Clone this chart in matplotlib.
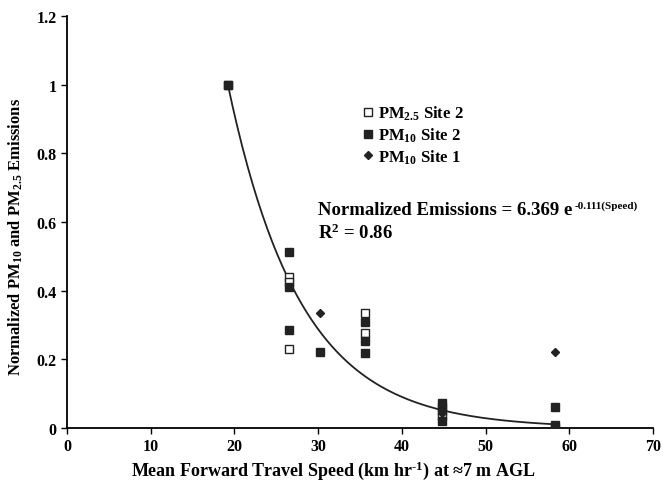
import numpy as np
import matplotlib
matplotlib.use('Agg')
import matplotlib.pyplot as plt

plt.rcParams['font.family'] = 'Liberation Serif'
plt.rcParams['font.weight'] = 'bold'
plt.rcParams['mathtext.fontset'] = 'custom'
plt.rcParams['mathtext.rm'] = 'Liberation Serif:bold'
plt.rcParams['mathtext.it'] = 'Liberation Serif:bold'
plt.rcParams['mathtext.bf'] = 'Liberation Serif:bold'

# PM2.5 Site 2 (open squares)
pm25_s2_x = [19.2, 26.5, 26.5, 26.5, 35.6, 35.6, 44.8, 44.8]
pm25_s2_y = [1.0, 0.44, 0.425, 0.23, 0.335, 0.277, 0.05, 0.035]
# PM10 Site 2 (filled squares)
pm10_s2_x = [19.2, 26.5, 26.5, 26.5, 30.2, 35.6, 35.6, 35.6, 44.8, 44.8, 44.8, 58.3, 58.3, 58.3]
pm10_s2_y = [1.0, 0.513, 0.412, 0.285, 0.221, 0.309, 0.253, 0.218, 0.073, 0.06, 0.02, 0.062, 0.01, 0.0]
# PM10 Site 1 (diamonds)
pm10_s1_x = [19.2, 30.2, 44.8, 58.3]
pm10_s1_y = [1.0, 0.335, 0.045, 0.22]

# exponential trend line as drawn
fit_a = 9.2
fit_k = 0.1155
fit_x = np.linspace(19.2, 58.5, 200)
fit_y = fit_a * np.exp(-fit_k * fit_x)

fig = plt.figure(figsize=(6.63, 4.81), dpi=100)
ax = fig.add_axes([0.101, 0.108, 0.884, 0.857])

ax.plot(fit_x, fit_y, color='#222222', lw=1.3, zorder=2)
ax.plot(pm25_s2_x, pm25_s2_y, ls='none', marker='s', ms=6, mfc='white', mec='#222222', mew=1, label='PM$_{2.5}$ Site 2', zorder=3)
ax.plot(pm10_s2_x, pm10_s2_y, ls='none', marker='s', ms=6, mfc='#222222', mec='#222222', label='PM$_{10}$ Site 2', zorder=3)
ax.plot(pm10_s1_x, pm10_s1_y, ls='none', marker='D', ms=4.5, mfc='#222222', mec='#222222', label='PM$_{10}$ Site 1', zorder=3)

ax.set_xlim(0, 70)
ax.set_ylim(0, 1.2)
ax.set_xticks(range(0, 71, 10))
ax.set_yticks([0, 0.2, 0.4, 0.6, 0.8, 1.0, 1.2])
ax.set_yticklabels(['0', '0.2', '0.4', '0.6', '0.8', '1', '1.2'])
ax.spines['top'].set_visible(False)
ax.spines['right'].set_visible(False)
ax.spines['left'].set_linewidth(1.3)
ax.spines['bottom'].set_linewidth(1.3)
ax.tick_params(direction='out', length=4, width=1, labelsize=11.5)

ax.set_xlabel('Mean Forward Travel Speed (km hr$^{\\text{-1}}$) at \u22487 m AGL', fontsize=13, fontweight='bold')
ax.xaxis.set_label_coords(0.454, -0.102)
ax.xaxis.label.set_va('center')
ax.set_ylabel('Normalized PM$_{10}$ and PM$_{2.5}$ Emissions', fontsize=12, fontweight='bold')
ax.yaxis.set_label_coords(-0.087, 0.466)
ax.yaxis.label.set_va('center')

ax.legend(loc='upper left', bbox_to_anchor=(0.485, 0.807), frameon=False, fontsize=12,
          handletextpad=0.1, labelspacing=0.2, handlelength=1.0, borderpad=0)

eq = ax.text(30.0, 0.635, 'Normalized Emissions = 6.369 e', fontsize=13.5, fontweight='bold', va='center')
ax.text(30.0, 0.57, 'R$^{2}$ = 0.86', fontsize=13.5, fontweight='bold', va='center')

# small superscript placed right after the equation text
fig.canvas.draw()
bb = eq.get_window_extent()
fig.text((bb.x1 + 2) / fig.bbox.width, (bb.y1 + 1) / fig.bbox.height, '-0.111(Speed)',
         fontsize=8, fontweight='bold', va='top', ha='left')

fig.savefig('out.png', dpi=100)
